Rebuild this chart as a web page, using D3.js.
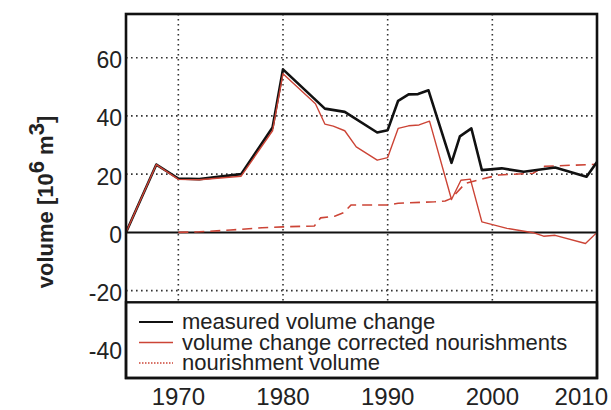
<!DOCTYPE html>
<html>
<head>
<meta charset="utf-8">
<script src="https://cdn.jsdelivr.net/npm/d3@7"></script>
<style>
  body { margin: 0; background: #fff; }
  text { font-family: "Liberation Sans", Arial, sans-serif; fill: #222; }
</style>
</head>
<body>
<script>
(function() {

  var measuredYears  = [1965, 1967.9, 1970, 1972, 1976, 1979, 1980, 1984, 1985.9, 1989, 1990, 1991, 1992, 1992.9, 1993.9, 1996.1, 1996.9, 1998, 1999, 2000.9, 2003, 2006, 2009, 2010],
      measuredValues = [0, 23.3, 18.5, 18.3, 20, 36, 56, 42.5, 41.4, 34.3, 35.1, 45.2, 47.4, 47.5, 48.8, 23.9, 33, 35.7, 21.4, 22, 20.8, 22.3, 19.1, 24.2],
      correctedYears  = [1965, 1967.9, 1970, 1972, 1976, 1979, 1980, 1983.1, 1984, 1984.8, 1985.9, 1987, 1989, 1990, 1991, 1992, 1993, 1994, 1996.1, 1997, 1997.9, 1999, 2001.4, 2003.9, 2004.9, 2006, 2008.9, 2010],
      correctedValues = [0, 23.3, 18.2, 18.1, 19.3, 34.9, 54.5, 44.2, 37.2, 36.5, 34.9, 29.4, 24.8, 25.7, 35.7, 36.6, 36.9, 38.2, 11.3, 17.9, 18.3, 3.6, 1.4, -0.1, -1.3, -1, -3.8, 0],
      nourishYears  = [1970, 1972, 1975, 1978, 1980, 1983, 1983.6, 1985, 1985.8, 1986.5, 1990, 1991, 1994.5, 1995.5, 1996.1, 1997.4, 1999.2, 2000.6, 2003.9, 2005, 2010],
      nourishValues = [0, 0.2, 0.8, 1.6, 1.9, 2.2, 5, 5.6, 6.8, 9.4, 9.4, 10, 10.5, 10.8, 11.7, 16.8, 18.5, 19.7, 20.3, 22.7, 23.4],
      xTicks = [1970, 1980, 1990, 2000, 2010],
      yTicks = [60, 40, 20, 0, -20, -40],
      yGrid  = [60, 40, 20, -20],
      legendLabels = ["measured volume change", "volume change corrected nourishments", "nourishment volume"],
      red = "#cc4436",
      W = 611, H = 410,
      left = 126, top = 14, right = 597, bottom = 378,
      legendTop = -24,
      svg, x, y, line, g;

  function zip(xs, ys) {
    return xs.map(function(d, i) { return [d, ys[i]]; });
  }

  svg = d3.select("body").append("svg")
    .attr("width", W)
    .attr("height", H);

  x = d3.scaleLinear().domain([1965, 2010]).range([left, right]);
  y = d3.scaleLinear().domain([-50, 75]).range([bottom, top]);

  line = d3.line()
    .x(function(d) { return x(d[0]); })
    .y(function(d) { return y(d[1]); });

  svg.append("defs").append("clipPath").attr("id", "plot")
    .append("rect")
      .attr("x", left).attr("y", top)
      .attr("width", right - left).attr("height", y(legendTop) - top);

  g = svg.append("g");

  // grid
  g.selectAll(".hgrid")
    .data(yGrid)
    .enter().append("line")
      .attr("x1", left).attr("x2", right)
      .attr("y1", function(d) { return y(d); })
      .attr("y2", function(d) { return y(d); })
      .attr("stroke", "#333").attr("stroke-width", 1.6)
      .attr("stroke-dasharray", "1.6,3.4");

  g.selectAll(".vgrid")
    .data(xTicks.slice(0, 4))
    .enter().append("line")
      .attr("x1", function(d) { return x(d); })
      .attr("x2", function(d) { return x(d); })
      .attr("y1", top).attr("y2", y(legendTop))
      .attr("stroke", "#333").attr("stroke-width", 1.6)
      .attr("stroke-dasharray", "1.6,3.4");

  g.append("line")
    .attr("x1", left).attr("x2", right)
    .attr("y1", y(0)).attr("y2", y(0))
    .attr("stroke", "#111").attr("stroke-width", 2);

  // series
  var lines = g.append("g").attr("clip-path", "url(#plot)");

  lines.append("path")
    .attr("d", line(zip(nourishYears, nourishValues)))
    .attr("fill", "none").attr("stroke", red)
    .attr("stroke-width", 1.6).attr("stroke-dasharray", "10,6");

  lines.append("path")
    .attr("d", line(zip(measuredYears, measuredValues)))
    .attr("fill", "none").attr("stroke", "#111")
    .attr("stroke-width", 2.6).attr("stroke-linejoin", "round");

  lines.append("path")
    .attr("d", line(zip(correctedYears, correctedValues)))
    .attr("fill", "none").attr("stroke", red)
    .attr("stroke-width", 1.4).attr("stroke-linejoin", "round");

  // legend box
  svg.append("rect")
    .attr("x", left).attr("y", y(legendTop))
    .attr("width", right - left).attr("height", bottom - y(legendTop))
    .attr("fill", "#fff").attr("stroke", "#111").attr("stroke-width", 2.4);

  var leg = svg.selectAll(".leg")
    .data(legendLabels)
    .enter().append("g")
      .attr("transform", function(d, i) { return "translate(0," + (329 + i * 20.5) + ")"; });

  leg.append("line")
    .attr("x1", 139).attr("x2", 173)
    .attr("y1", -7).attr("y2", -7)
    .attr("stroke", function(d, i) { return i === 0 ? "#111" : red; })
    .attr("stroke-width", function(d, i) { return i === 0 ? 2 : 1.4; })
    .attr("stroke-dasharray", function(d, i) { return i === 2 ? "1.5,1.5" : null; });

  leg.append("text")
    .attr("x", 182)
    .attr("font-size", 22)
    .text(function(d) { return d; });

  // outer frame
  svg.append("rect")
    .attr("x", left).attr("y", top)
    .attr("width", right - left).attr("height", bottom - top)
    .attr("fill", "none").attr("stroke", "#111").attr("stroke-width", 2.6);

  // y tick labels
  svg.selectAll(".ylab")
    .data(yTicks)
    .enter().append("text")
      .attr("x", 122)
      .attr("y", function(d) { return y(d) + 10.5; })
      .attr("text-anchor", "end")
      .attr("font-size", 23)
      .text(function(d) { return d; });

  // x tick labels
  svg.selectAll(".xlab")
    .data(xTicks)
    .enter().append("text")
      .attr("x", function(d) { return d === 2010 ? 608 : x(d); })
      .attr("y", 405)
      .attr("text-anchor", function(d) { return d === 2010 ? "end" : "middle"; })
      .attr("font-size", 24)
      .text(function(d) { return d; });

  // y axis title
  var yt = svg.append("text")
    .attr("transform", "translate(53,202) rotate(-90)")
    .attr("text-anchor", "middle")
    .attr("font-size", 22)
    .attr("font-weight", "bold");
  yt.append("tspan").text("volume [10");
  yt.append("tspan").attr("dy", -9).text("6");
  yt.append("tspan").attr("dy", 9).text(" m");
  yt.append("tspan").attr("dy", -9).text("3");
  yt.append("tspan").attr("dy", 9).text("]");

}());
</script>
</body>
</html>
